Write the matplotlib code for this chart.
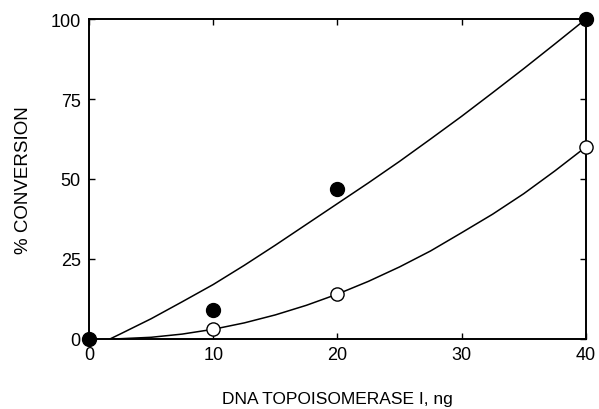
import numpy as np
import matplotlib.pyplot as plt

plt.rcParams['font.family'] = ['Liberation Sans', 'DejaVu Sans']

# Datos experimentales
ng = [0, 10, 20, 40]
llenos = [0, 9, 47, 100]
ng_abiertos = [10, 20, 40]
abiertos = [3, 14, 60]

# Curvas ajustadas
curva_x = [1.7, 2.5, 5, 7.5, 10, 12.5, 15, 17.5, 20, 22.5, 25, 27.5, 30,
           32.5, 35, 37.5, 40]
curva_llena = [0, 1.5, 6.3, 11.6, 17, 23, 29.3, 35.8, 42.3, 48.8, 55.5,
               62.5, 69.6, 77, 84.5, 92.2, 100]
curva_x2 = [2, 2.5, 5, 7.5, 10, 12.5, 15, 17.5, 20, 22.5, 25, 27.5, 30,
            32.5, 35, 37.5, 40]
curva_abierta = [0, 0.05, 0.5, 1.5, 3, 5, 7.5, 10.5, 14, 18, 22.5, 27.5,
                 33.2, 39, 45.4, 52.5, 60]

fig = plt.figure(figsize=(5.99, 4.10), dpi=100)
ax = fig.add_axes([0.1486, 0.171, 0.8294, 0.780])

ax.plot(curva_x, curva_llena, color='black', lw=1.1)
ax.plot(curva_x2, curva_abierta, color='black', lw=1.1)
ax.plot(ng, llenos, 'o', color='black', ms=10, clip_on=False, zorder=5)
ax.plot(ng_abiertos, abiertos, 'o', mfc='white', mec='black', mew=1.0,
        ms=9.5, clip_on=False, zorder=5)

ax.set_xlim(0, 40)
ax.set_ylim(0, 100)
ax.set_xticks([0, 10, 20, 30, 40])
ax.set_yticks([0, 25, 50, 75, 100])
ax.tick_params(direction='in', length=4, width=1, labelsize=13,
               top=True, right=True)
ax.tick_params(axis='x', pad=5)
ax.tick_params(axis='y', pad=6)
for s in ax.spines.values():
    s.set_linewidth(1.4)

ax.set_xlabel('DNA TOPOISOMERASE I, ng', fontsize=12.5, labelpad=20)
ax.set_ylabel('% CONVERSION', fontsize=13.5, labelpad=13)

fig.savefig('out.png', dpi=100)
